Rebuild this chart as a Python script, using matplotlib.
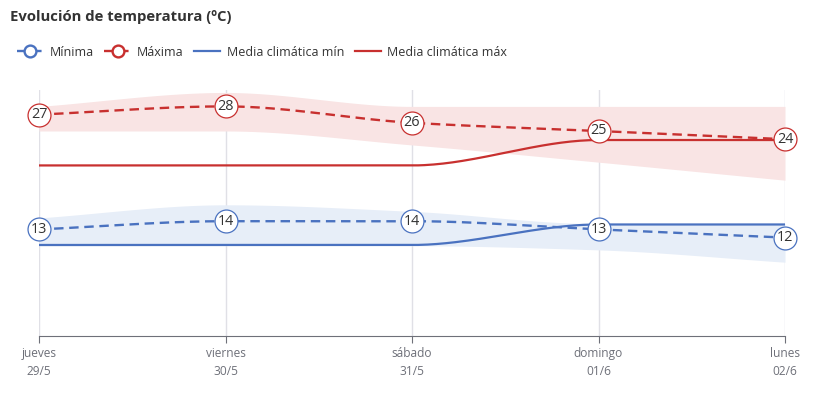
import numpy as np
import matplotlib
matplotlib.use("Agg")
import matplotlib.pyplot as plt
from matplotlib.lines import Line2D

plt.rcParams["font.family"] = ["Open Sans", "DejaVu Sans"]

# --- data ---
days = ["jueves", "viernes", "sábado", "domingo", "lunes"]
dates = ["29/5", "30/5", "31/5", "01/6", "02/6"]
t_min = [13, 14, 14, 13, 12]
t_max = [27, 28, 26, 25, 24]
clim_min = [11.1, 11.1, 11.1, 13.6, 13.6]
clim_max = [20.8, 20.8, 20.8, 23.9, 23.9]
band_min_lo = [11.0, 11.0, 11.0, 10.5, 9.0]
band_min_hi = [14.4, 16.0, 15.2, 13.7, 13.7]
band_max_lo = [25.0, 25.0, 23.3, 21.2, 19.0]
band_max_hi = [28.0, 29.7, 28.0, 28.0, 28.0]

RED = "#c8302f"
BLUE = "#4a72c0"
PINK = "#f9e4e4"
LBLUE = "#e7eef8"
GREY = "#6e7079"


def monotone(y, n=60):
    """Monotone cubic (Fritsch-Carlson) through equally spaced points."""
    y = np.asarray(y, float)
    x = np.arange(len(y), dtype=float)
    d = np.diff(y)
    m = np.zeros_like(y)
    m[0], m[-1] = d[0], d[-1]
    for k in range(1, len(y) - 1):
        if d[k - 1] * d[k] > 0:
            m[k] = 2 / (1 / d[k - 1] + 1 / d[k])
    xs, ys = [], []
    for k in range(len(y) - 1):
        t = np.linspace(0, 1, n, endpoint=(k == len(y) - 2))
        h00 = 2 * t**3 - 3 * t**2 + 1
        h10 = t**3 - 2 * t**2 + t
        h01 = -2 * t**3 + 3 * t**2
        h11 = t**3 - t**2
        xs.append(x[k] + t)
        ys.append(h00 * y[k] + h10 * m[k] + h01 * y[k + 1] + h11 * m[k + 1])
    return np.concatenate(xs), np.concatenate(ys)


fig = plt.figure(figsize=(8.17, 3.94), dpi=100)
ax = fig.add_axes([39 / 817, 1 - 336 / 394, (785 - 39) / 817, (336 - 90) / 394])
ax.set_xlim(0, len(days) - 1)
ax.set_ylim(0, 30)

xs, lo = monotone(band_max_lo)
_, hi = monotone(band_max_hi)
ax.fill_between(xs, lo, hi, color=PINK, lw=0, zorder=1)
xs, lo = monotone(band_min_lo)
_, hi = monotone(band_min_hi)
ax.fill_between(xs, lo, hi, color=LBLUE, lw=0, zorder=1)

for i in range(len(days)):
    ax.axvline(i, color="#e0e0e6", lw=1, zorder=0.5)

ax.plot(*monotone(clim_max), color=RED, lw=1.6, zorder=3)
ax.plot(*monotone(clim_min), color=BLUE, lw=1.6, zorder=3)
ax.plot(*monotone(t_max), color=RED, lw=1.7, dashes=(4, 2.4), zorder=4)
ax.plot(*monotone(t_min), color=BLUE, lw=1.7, dashes=(4, 2.4), zorder=4)

idx = np.arange(len(days))
for vals, col in [(t_max, RED), (t_min, BLUE)]:
    ax.plot(idx, vals, "o", ms=16.5, mfc="white", mec=col, mew=0.9,
            zorder=5, clip_on=False)
    for i, v in enumerate(vals):
        ax.text(i, v, f"{v}", ha="center", va="center", fontsize=10.4,
                color="#333333", zorder=6)

for s in ["top", "right", "left"]:
    ax.spines[s].set_visible(False)
ax.spines["bottom"].set_color(GREY)
ax.set_yticks([])
ax.set_xticks(idx)
ax.set_xticklabels([f"{d}\n{t}" for d, t in zip(days, dates)],
                   fontsize=8.6, color=GREY, linespacing=1.5)
ax.tick_params(axis="x", length=5, color=GREY, pad=3)

fig.text(10 / 817, 1 - 17 / 394, "Evolución de temperatura (ºC)",
         fontsize=10.7, fontweight="bold", color="#333333", va="center")

handles = [
    Line2D([], [], color=BLUE, lw=1.7, dashes=(4, 2.4), marker="o", ms=8.5,
           mfc="white", mec=BLUE, mew=1.7),
    Line2D([], [], color=RED, lw=1.7, dashes=(4, 2.4), marker="o", ms=8.5,
           mfc="white", mec=RED, mew=1.7),
    Line2D([], [], color=BLUE, lw=1.6),
    Line2D([], [], color=RED, lw=1.6),
]
labels = ["Mínima", "Máxima", "Media climática mín", "Media climática máx"]
fig.legend(handles, labels, loc="center left", bbox_to_anchor=(0.021, 1 - 52 / 394),
           ncol=4, frameon=False, fontsize=9.0, handlelength=2.1,
           handletextpad=0.5, columnspacing=0.85, labelcolor="#333333",
           borderaxespad=0, borderpad=0)

fig.savefig("out.png", dpi=100)
